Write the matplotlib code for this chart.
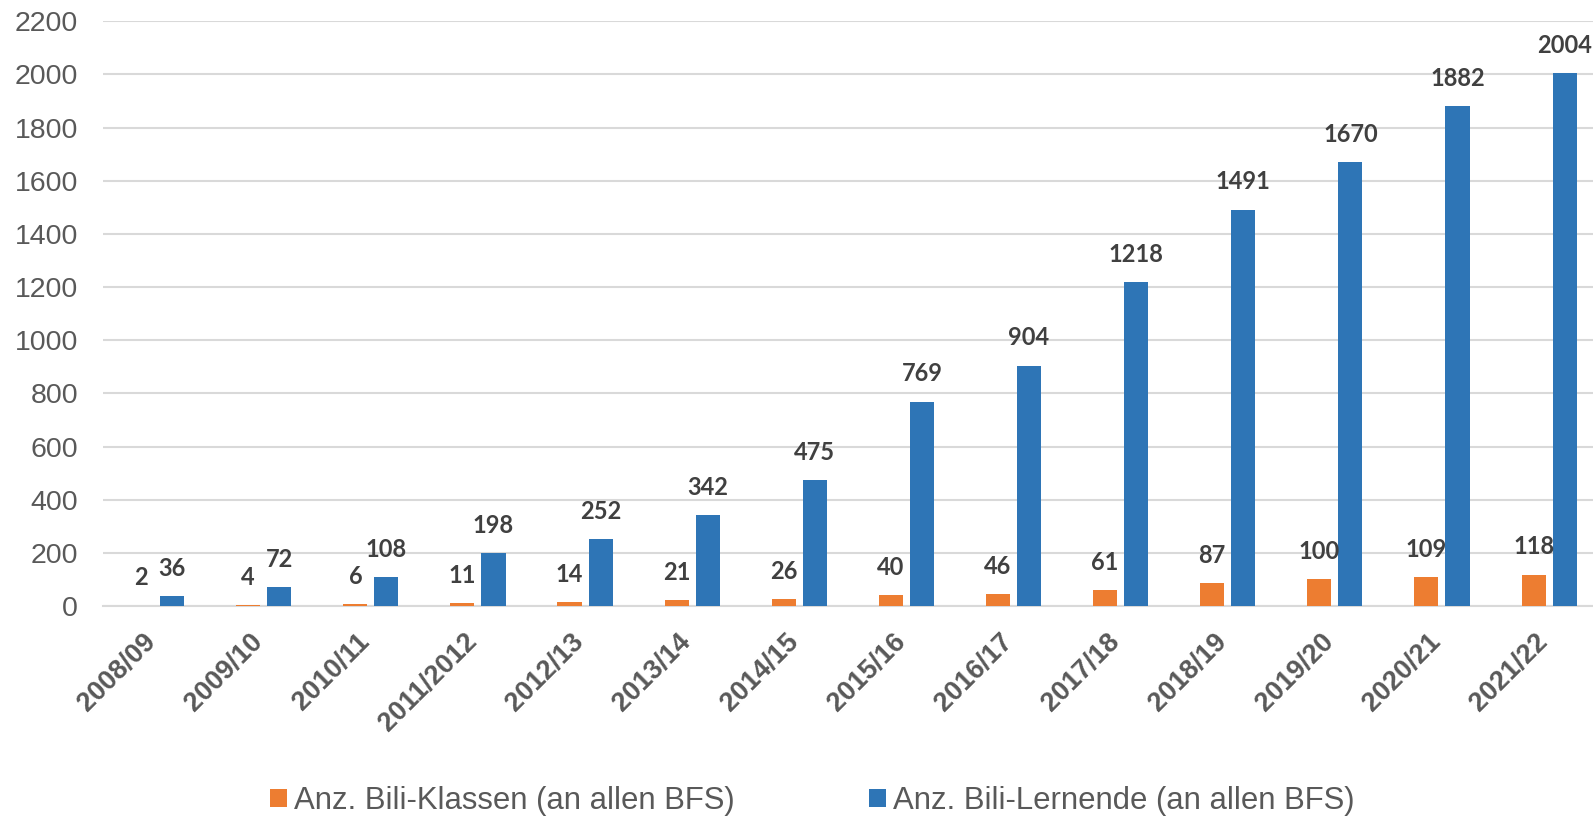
import numpy as np
import matplotlib
matplotlib.use("Agg")
import matplotlib.pyplot as plt
from matplotlib.transforms import ScaledTranslation

years = ["2008/09", "2009/10", "2010/11", "2011/2012", "2012/13", "2013/14", "2014/15",
         "2015/16", "2016/17", "2017/18", "2018/19", "2019/20", "2020/21", "2021/22"]
klassen = [2, 4, 6, 11, 14, 21, 26, 40, 46, 61, 87, 100, 109, 118]
lernende = [36, 72, 108, 198, 252, 342, 475, 769, 904, 1218, 1491, 1670, 1882, 2004]

ORANGE = "#ED7D31"
BLUE = "#2E75B6"
GRID = "#D9D9D9"
TICK = "#595959"
LABEL = "#404040"

fig = plt.figure(figsize=(15.93, 8.19), dpi=100)
ax = fig.add_axes([0.0647, 0.26, 0.9353, 0.714])

x = np.arange(len(years))
w = 0.225
off = 0.145
b1 = ax.bar(x - off, klassen, w, color=ORANGE, label="Anz. Bili-Klassen (an allen BFS)", zorder=3)
b2 = ax.bar(x + off, lernende, w, color=BLUE, label="Anz. Bili-Lernende (an allen BFS)", zorder=3)

for bars, vals in ((b1, klassen), (b2, lernende)):
    for r, v in zip(bars, vals):
        ax.annotate(str(v), (r.get_x() + r.get_width() / 2, v), xytext=(0, 20),
                    textcoords="offset points", ha="center", va="center",
                    fontsize=17, fontweight="bold", family="Lato", color=LABEL, zorder=4)

ax.set_ylim(0, 2200)
ax.set_yticks(range(0, 2201, 200))
ax.set_xlim(-0.5, 13.41)
ax.grid(axis="y", color=GRID, linewidth=1.5, zorder=0)
for s in ["top", "right", "left"]:
    ax.spines[s].set_visible(False)
ax.spines["bottom"].set_color(GRID)
ax.spines["bottom"].set_linewidth(1.5)
ax.tick_params(axis="both", length=0)
ax.tick_params(axis="y", pad=18, labelsize=20.5, labelcolor=TICK)
ax.set_yticklabels([str(t) for t in range(0, 2201, 200)], family="Liberation Sans")
ax.set_xticks(x)
ax.set_xticklabels(years, rotation=45, ha="right", va="center", rotation_mode="anchor",
                   fontsize=19.5, fontweight="bold", family="Liberation Sans", color=TICK)
ax.tick_params(axis="x", pad=23)
shift = ScaledTranslation(-5 / 100, 0, fig.dpi_scale_trans)
for lbl in ax.get_xticklabels():
    lbl.set_transform(lbl.get_transform() + shift)

fig.legend(handles=[b1, b2], loc="center", bbox_to_anchor=(0.51, 0.022), ncol=2,
           frameon=False, prop={"family": "Liberation Sans", "size": 22.4},
           labelcolor=TICK, handlelength=0.55, handleheight=0.55,
           handletextpad=0.23, columnspacing=4.3, borderpad=0.1)

fig.savefig("out.png", dpi=100)
